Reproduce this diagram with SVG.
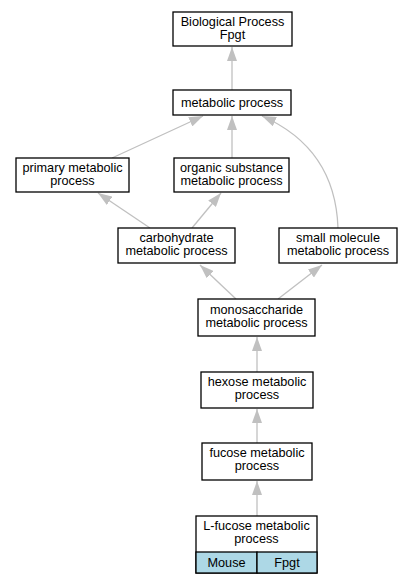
<svg xmlns="http://www.w3.org/2000/svg" width="411" height="584" viewBox="0 0 411 584">
<style>
.box{fill:#fff;stroke:#000;stroke-width:1.3}
.cell{fill:#add8e6;stroke:#000;stroke-width:1.3}
text{font-family:"Liberation Sans",Arial,sans-serif;font-size:12.7px;text-anchor:middle;fill:#000}
.e{fill:none;stroke:#c0c0c0;stroke-width:1.3;marker-end:url(#ah)}
</style>
<defs>
<marker id="ah" viewBox="0 0 14 10" refX="14" refY="5" markerWidth="14" markerHeight="10" markerUnits="userSpaceOnUse" orient="auto">
<path d="M0,0 L14,5 L0,10 z" fill="#c0c0c0"/>
</marker>
</defs>
<rect width="411" height="584" fill="#fff"/>
<g id="connectors">
<path class="e" d="M232,90 L232,47"/>
<path class="e" d="M112,158 L203,116"/>
<path class="e" d="M232,158 L232,116"/>
<path class="e" d="M338,228 C336,170 305,135 262,116"/>
<path class="e" d="M150,228 L98,193"/>
<path class="e" d="M192,228 L221,193"/>
<path class="e" d="M236,299 L200,265"/>
<path class="e" d="M278,299 L322,265"/>
<path class="e" d="M257,372 L257,337"/>
<path class="e" d="M257,443 L257,409"/>
<path class="e" d="M257,516 L257,481"/>
</g>
<g id="bp"><rect class="box" x="173" y="12" width="119" height="34"/><text x="232.5" y="26.3">Biological Process</text><text x="232.5" y="39">Fpgt</text></g>
<g id="metabolic"><rect class="box" x="173" y="90" width="118" height="25"/><text x="232" y="107">metabolic process</text></g>
<g id="primary"><rect class="box" x="16" y="158" width="113" height="34"/><text x="72.5" y="172.3">primary metabolic</text><text x="72.5" y="185">process</text></g>
<g id="organic"><rect class="box" x="174" y="158" width="115" height="34"/><text x="231.5" y="172.3">organic substance</text><text x="231.5" y="185">metabolic process</text></g>
<g id="carbohydrate"><rect class="box" x="118" y="228" width="117" height="35"/><text x="176.5" y="242.3">carbohydrate</text><text x="176.5" y="255">metabolic process</text></g>
<g id="small"><rect class="box" x="279" y="228" width="118" height="35"/><text x="338" y="242.3">small molecule</text><text x="338" y="255">metabolic process</text></g>
<g id="mono"><rect class="box" x="198" y="299" width="117" height="37"/><text x="256.5" y="314.3">monosaccharide</text><text x="256.5" y="327">metabolic process</text></g>
<g id="hexose"><rect class="box" x="201" y="372" width="112" height="36"/><text x="257" y="386.3">hexose metabolic</text><text x="257" y="399">process</text></g>
<g id="fucose"><rect class="box" x="202" y="443" width="110" height="37"/><text x="257" y="457.3">fucose metabolic</text><text x="257" y="470">process</text></g>
<g id="lfucose"><rect class="box" x="196" y="516" width="121" height="57"/><text x="256.5" y="530.3">L-fucose metabolic</text><text x="256.5" y="543">process</text>
<rect class="cell" x="196" y="552" width="61" height="21"/><rect class="cell" x="257" y="552" width="60" height="21"/>
<text x="226.5" y="566.5">Mouse</text><text x="287" y="566.5">Fpgt</text></g>
</svg>
